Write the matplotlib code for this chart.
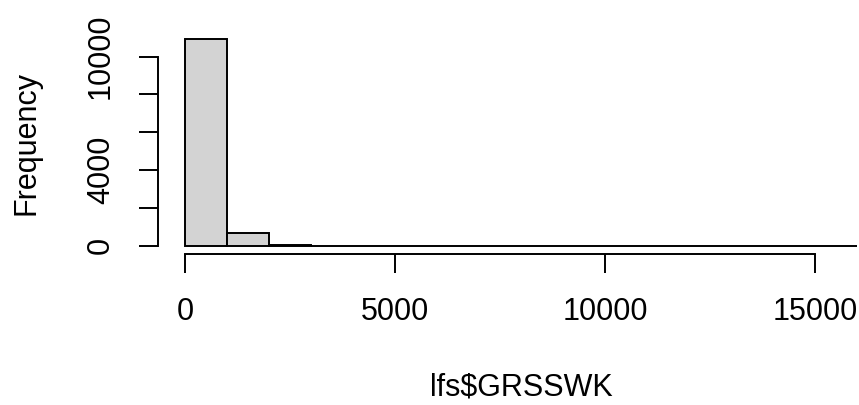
import numpy as np
import matplotlib
matplotlib.use("Agg")
import matplotlib.pyplot as plt

plt.rcParams['font.family'] = ['Liberation Sans', 'DejaVu Sans']

bin_edges = [0, 1000, 2000, 3000, 4000, 5000, 6000, 7000, 8000, 9000, 10000,
             11000, 12000, 13000, 14000, 15000, 16000]
counts = [10920, 660, 45, 12, 5, 3, 2, 1, 1, 1, 0, 0, 0, 0, 0, 1]
x_ticks = [0, 5000, 10000, 15000]
x_tick_labels = ['0', '5000', '10000', '15000']
y_ticks = [0, 2000, 4000, 6000, 8000, 10000]
y_tick_labels = ['0', '', '4000', '', '', '10000']
x_label = 'lfs$GRSSWK'
y_label = 'Frequency'

W, H = 859, 405
FS = 22
fig = plt.figure(figsize=(W / 100, H / 100), dpi=100)
ax = fig.add_axes([158 / W, 1 - 254 / H, 726 / W, 223 / H])

lefts = np.array(bin_edges[:-1])
widths = np.diff(bin_edges)
ax.bar(lefts, counts, width=widths, align='edge', color='#D3D3D3',
       edgecolor='black', linewidth=1.4)

ax.set_xlim(-640, 16640)
ax.set_ylim(-437, 11357)

for s in ['top', 'right']:
    ax.spines[s].set_visible(False)
ax.spines['left'].set_bounds(0, 10000)
ax.spines['bottom'].set_bounds(0, 15000)
ax.spines['left'].set_linewidth(1.4)
ax.spines['bottom'].set_linewidth(1.4)

ax.set_xticks(x_ticks)
ax.set_xticklabels(x_tick_labels, fontsize=FS, va='center')
ax.set_yticks(y_ticks)
ax.set_yticklabels(y_tick_labels, fontsize=FS, rotation=90, va='center', ha='center')
ax.tick_params(axis='both', length=13.7, width=1.4, color='black')
ax.tick_params(axis='x', pad=28)
ax.tick_params(axis='y', pad=27.4)

ax.set_xlabel(x_label, fontsize=FS, va='center')
ax.xaxis.set_label_coords(0.5, (254 - 387) / 223)
ax.set_ylabel(y_label, fontsize=FS, va='center')
ax.yaxis.set_label_coords((27 - 158) / 726, 0.5)

fig.savefig('out.png', dpi=100)
